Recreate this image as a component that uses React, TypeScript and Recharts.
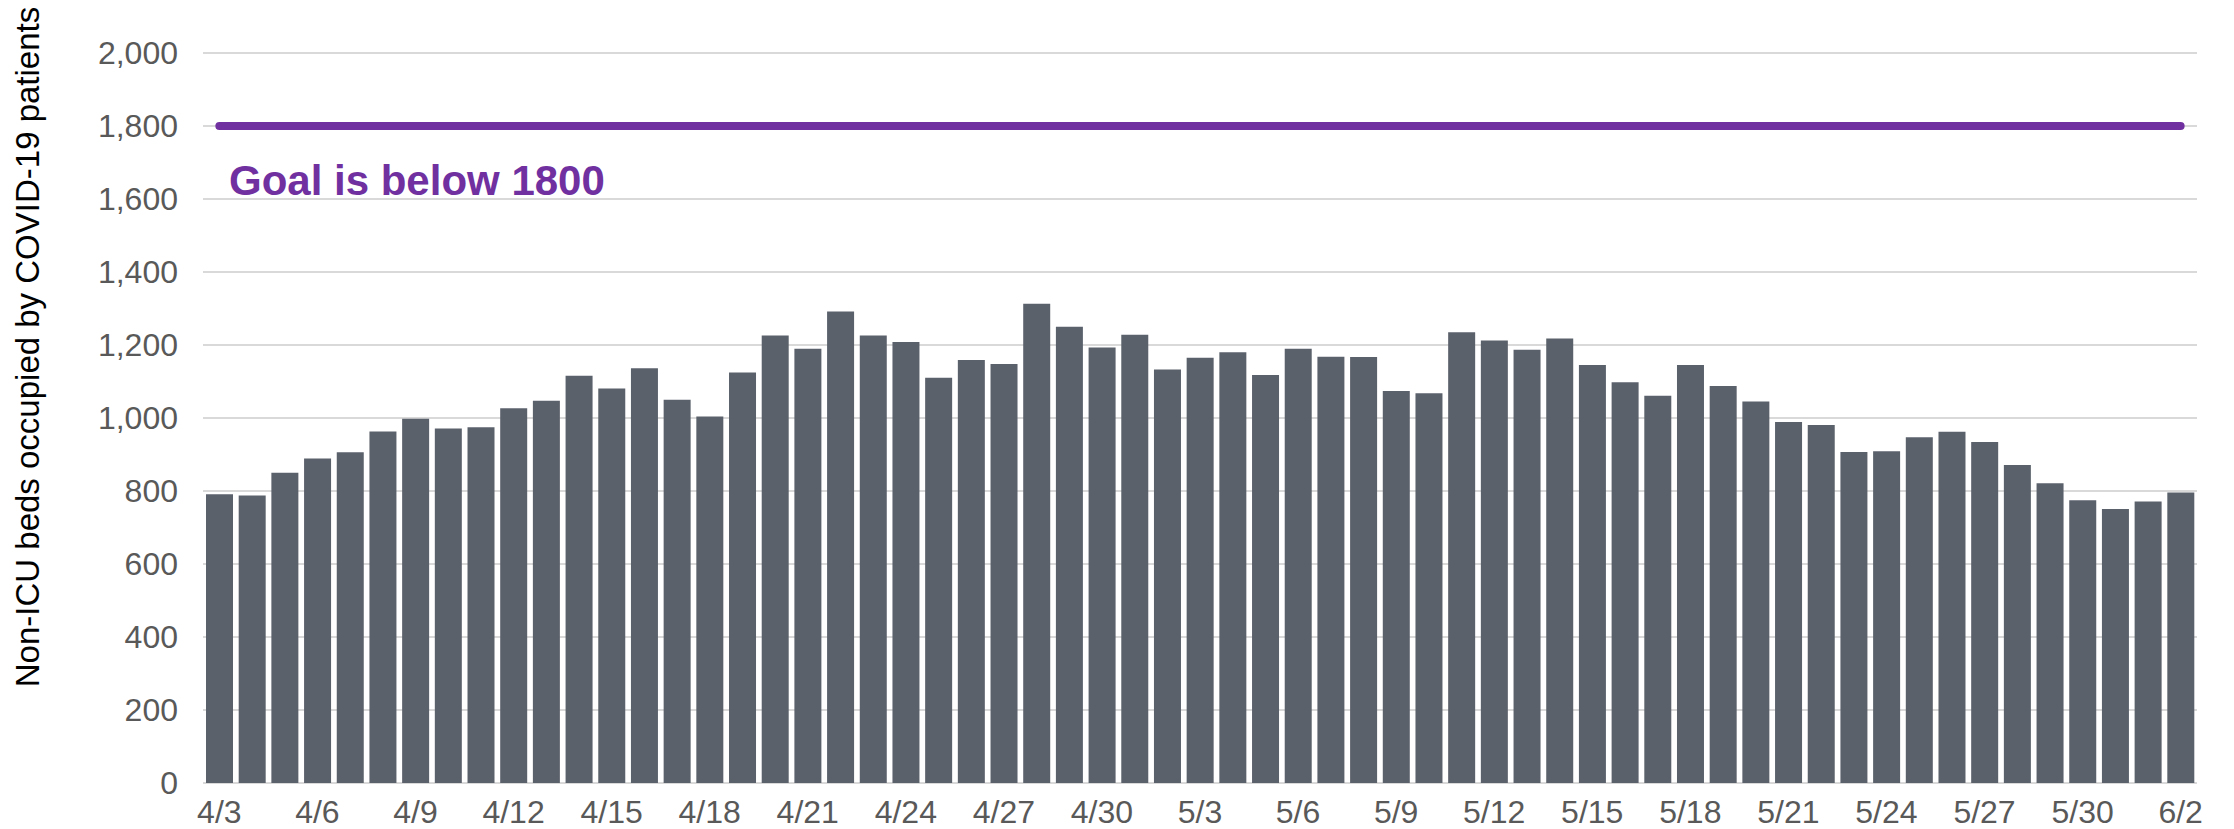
import React from 'react';
import { ComposedChart, Bar, Line, XAxis, YAxis, CartesianGrid, Customized } from 'recharts';

const dates = [
  '4/3', '4/4', '4/5', '4/6', '4/7', '4/8', '4/9', '4/10', '4/11', '4/12', '4/13', '4/14', '4/15', '4/16',
  '4/17', '4/18', '4/19', '4/20', '4/21', '4/22', '4/23', '4/24', '4/25', '4/26', '4/27', '4/28', '4/29', '4/30',
  '5/1', '5/2', '5/3', '5/4', '5/5', '5/6', '5/7', '5/8', '5/9', '5/10', '5/11', '5/12', '5/13', '5/14', '5/15',
  '5/16', '5/17', '5/18', '5/19', '5/20', '5/21', '5/22', '5/23', '5/24', '5/25', '5/26', '5/27', '5/28', '5/29',
  '5/30', '5/31', '6/1', '6/2',
];

const beds = [
  791, 788, 850, 889, 906, 963, 998, 971, 975, 1027, 1047, 1116, 1081, 1136,
  1050, 1004, 1125, 1226, 1190, 1292, 1226, 1208, 1110, 1159, 1148, 1313, 1250, 1193,
  1228, 1133, 1165, 1180, 1118, 1190, 1168, 1167, 1074, 1068, 1235, 1212, 1187, 1218, 1145,
  1098, 1061, 1145, 1088, 1045, 989, 981, 907, 909, 947, 962, 934, 871, 821,
  775, 751, 771, 796,
];

const goalValue = 1800;
const yTicks = [0, 200, 400, 600, 800, 1000, 1200, 1400, 1600, 1800, 2000];
const goalText = 'Goal is below 1800';
const yTitle = 'Non-ICU beds occupied by COVID-19 patients';

const data = dates.map((d, i) => ({ date: d, beds: beds[i], goal: goalValue }));

const FONT = '"Liberation Sans", Arial, sans-serif';

const Annotations = () => (
  <g>
    <text x={229} y={195} fontFamily={FONT} fontSize={42} fontWeight={700} fill="#7030a0">
      {goalText}
    </text>
    <text
      x={39}
      y={347}
      transform="rotate(-90, 39, 347)"
      textAnchor="middle"
      fontFamily={FONT}
      fontSize={33}
      fill="#000000"
    >
      {yTitle}
    </text>
  </g>
);

export default function App() {
  return (
    <div style={{ position: 'absolute', left: 0, top: 0, width: 2234, height: 829, background: '#ffffff' }}>
      <ComposedChart
        width={2234}
        height={829}
        data={data}
        margin={{ top: 53, right: 37, bottom: 0, left: 0 }}
      >
        <CartesianGrid vertical={false} stroke="#d9d9d9" strokeWidth={2} />
        <XAxis
          dataKey="date"
          interval={2}
          height={46}
          tickLine={false}
          axisLine={false}
          tickSize={0}
          tickMargin={17}
          tick={{ fontSize: 32, fill: '#595959', fontFamily: FONT }}
        />
        <YAxis
          width={203}
          domain={[0, 2000]}
          ticks={yTicks}
          interval={0}
          tickLine={false}
          axisLine={false}
          tickSize={0}
          tickMargin={25}
          tickFormatter={(v: number) => v.toLocaleString('en-US')}
          tick={{ fontSize: 32, fill: '#595959', fontFamily: FONT }}
        />
        <Bar dataKey="beds" fill="#5b616b" barSize={27} isAnimationActive={false} />
        <Line
          dataKey="goal"
          type="linear"
          stroke="#7030a0"
          strokeWidth={8}
          strokeLinecap="round"
          dot={false}
          activeDot={false}
          isAnimationActive={false}
        />
        <Customized component={Annotations} />
      </ComposedChart>
    </div>
  );
}
